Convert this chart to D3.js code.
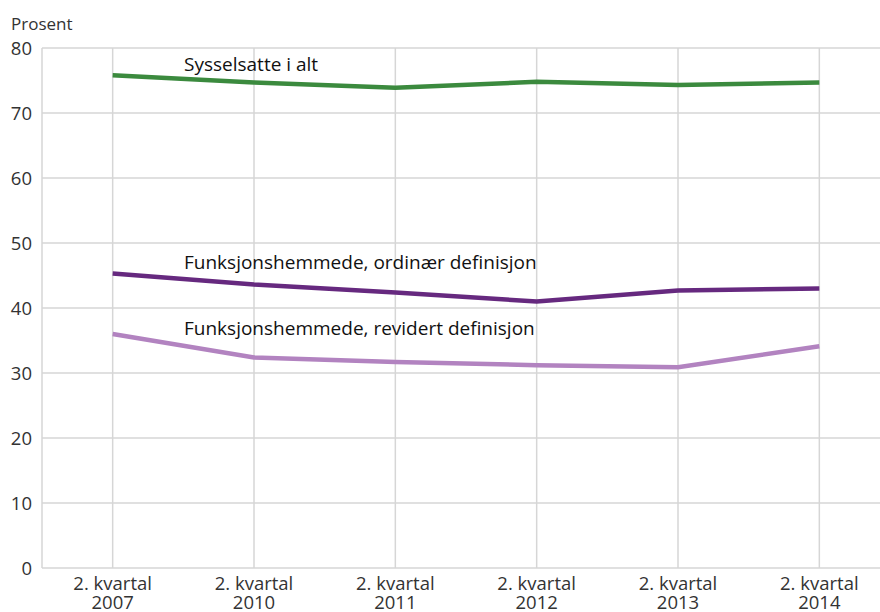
<!DOCTYPE html>
<html>
<head>
<meta charset="utf-8">
<script src="https://cdn.jsdelivr.net/npm/d3@7"></script>
<style>
  body { margin: 0; background: #fff; }
  svg { display: block; font-family: "Open Sans", "Noto Sans", sans-serif; }
</style>
</head>
<body>
<div id="chart"></div>
<script>
// Chart data
const categories = ["2. kvartal 2007", "2. kvartal 2010", "2. kvartal 2011",
                    "2. kvartal 2012", "2. kvartal 2013", "2. kvartal 2014"];
const sysselsatte = [75.8, 74.7, 73.9, 74.8, 74.3, 74.7];
const ordinaer = [45.3, 43.6, 42.4, 41.0, 42.7, 43.0];
const revidert = [36.0, 32.4, 31.7, 31.2, 30.9, 34.1];
const seriesNames = ["Sysselsatte i alt", "Funksjonshemmede, ordinær definisjon", "Funksjonshemmede, revidert definisjon"];
const yTicks = [0, 10, 20, 30, 40, 50, 60, 70, 80];

const series = [
  { name: seriesNames[0], values: sysselsatte, color: "#3b8a3e", labelY: 76.5 },
  { name: seriesNames[1], values: ordinaer, color: "#66297f", labelY: 46.0 },
  { name: seriesNames[2], values: revidert, color: "#b283c0", labelY: 35.8 }
];

// dimensions
const W = 880, H = 612;
const margin = { top: 48, left: 42, bottom: 44 };
const plotBottom = H - margin.bottom;

const svg = d3.select("#chart")
  .append("svg")
  .attr("width", W)
  .attr("height", H);

// x: point scale, first point half a step in from the axis
const x = d3.scalePoint()
  .domain(categories)
  .range([margin.left, 890])
  .padding(0.5);

const y = d3.scaleLinear()
  .domain([0, 80])
  .range([plotBottom, margin.top]);

// horizontal gridlines
svg.append("g")
  .selectAll("line")
  .data(yTicks)
  .join("line")
  .attr("x1", margin.left)
  .attr("x2", W)
  .attr("y1", d => y(d))
  .attr("y2", d => y(d))
  .attr("stroke", "#d6d6d6")
  .attr("stroke-width", 1.5);

// vertical gridlines
svg.append("g")
  .selectAll("line")
  .data(categories)
  .join("line")
  .attr("x1", d => x(d))
  .attr("x2", d => x(d))
  .attr("y1", y(80))
  .attr("y2", y(0))
  .attr("stroke", "#d6d6d6")
  .attr("stroke-width", 1.5);

// left axis line
svg.append("line")
  .attr("x1", margin.left).attr("x2", margin.left)
  .attr("y1", y(80)).attr("y2", y(0))
  .attr("stroke", "#d6d6d6")
  .attr("stroke-width", 1.5);

// y tick labels
svg.append("g")
  .selectAll("text")
  .data(yTicks)
  .join("text")
  .attr("x", 32)
  .attr("y", d => y(d) + 6.5)
  .attr("text-anchor", "end")
  .style("font-size", "18.5px")
  .style("fill", "#333")
  .text(d => d);

// unit label
svg.append("text")
  .attr("x", 11)
  .attr("y", 30)
  .style("font-size", "17px")
  .style("fill", "#333")
  .text("Prosent");

// x tick labels, two lines
const xLabels = svg.append("g")
  .selectAll("text")
  .data(categories)
  .join("text")
  .attr("text-anchor", "middle")
  .style("font-size", "18.5px")
  .style("fill", "#333");

xLabels.append("tspan")
  .attr("x", d => x(d))
  .attr("y", 590)
  .text(d => d.slice(0, 10));

xLabels.append("tspan")
  .attr("x", d => x(d))
  .attr("y", 609)
  .text(d => d.slice(11));

// lines
const line = d3.line()
  .x((d, i) => x(categories[i]))
  .y(d => y(d));

svg.append("g")
  .selectAll("path")
  .data(series)
  .join("path")
  .attr("d", d => line(d.values))
  .attr("fill", "none")
  .attr("stroke", d => d.color)
  .attr("stroke-width", 4.5);

// series labels
svg.append("g")
  .selectAll("text")
  .data(series)
  .join("text")
  .attr("x", 184)
  .attr("y", d => y(d.labelY))
  .style("font-size", "19px")
  .style("fill", "#111")
  .text(d => d.name);
</script>
</body>
</html>
